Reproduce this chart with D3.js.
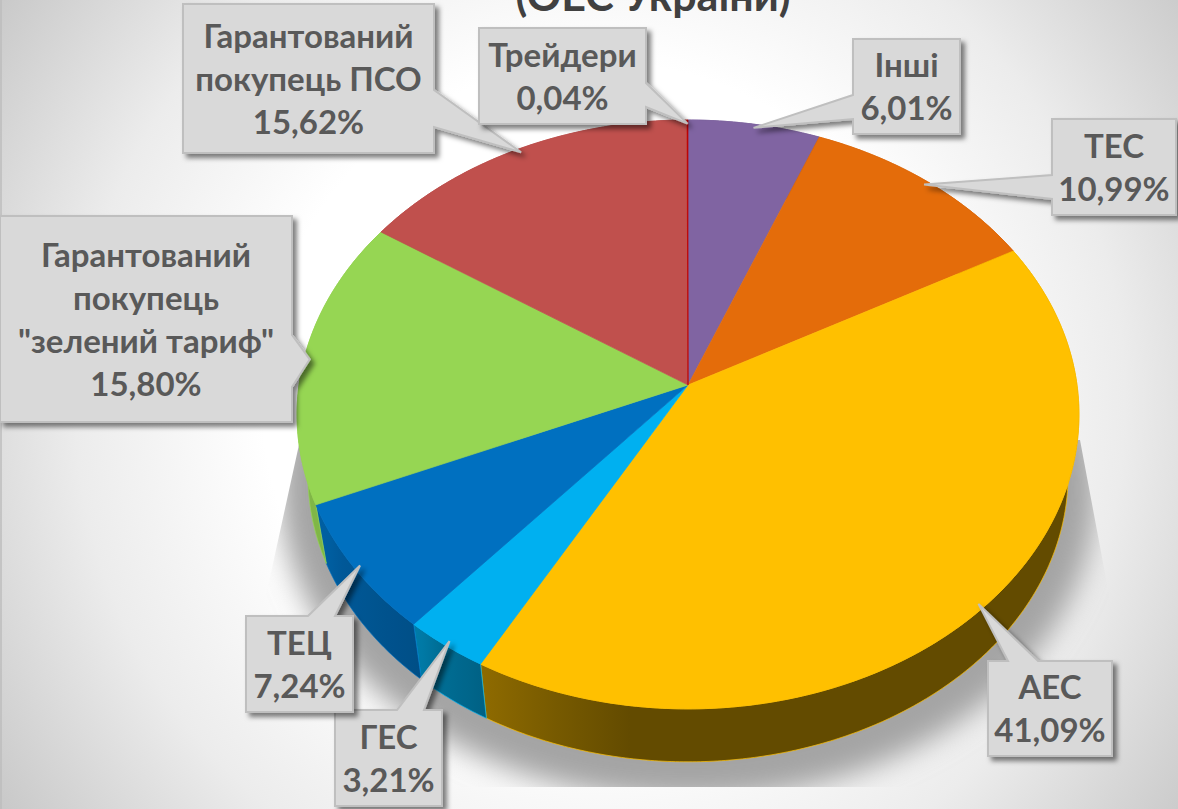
<!DOCTYPE html>
<meta charset="utf-8">
<style>
html, body { margin: 0; padding: 0; background: #fff; }
svg { display: block; }
text { font-family: Lato, "Open Sans", "Noto Sans", sans-serif; font-weight: 700; text-anchor: middle; }
</style>
<svg width="1178" height="809"></svg>
<script src="https://d3js.org/d3.v7.min.js"></script>
<script>

var titleText = "(ОЕС України)";
var names = ["Інші", "ТЕС", "АЕС", "ГЕС", "ТЕЦ", "Гарантований покупець \"зелений тариф\"", "Гарантований покупець ПСО", "Трейдери"];
var shares = [6.01, 10.99, 41.09, 3.21, 7.24, 15.80, 15.62, 0.04];
var colors = ["#8064a2", "#e46c0a", "#ffc000", "#00b0f0", "#0070c0", "#96d653", "#c0504d", "#c00000"];

// label text broken into lines the way the boxes show it
var nameLines = [["Інші"], ["ТЕС"], ["АЕС"], ["ГЕС"], ["ТЕЦ"],
  ["Гарантований", "покупець", "\"зелений тариф\""], ["Гарантований", "покупець ПСО"], ["Трейдери"]];

// callout box: x0,y0,x1,y1, side the pointer leaves from, two base offsets along that side
var boxes = [
  [853, 39, 960, 134, "left", 95, 119],
  [1052, 119, 1176, 215, "left", 175, 199],
  [988, 661, 1112, 756, "top", 1008, 1038],
  [335, 710, 442, 806, "top", 397, 424],
  [246, 616, 353, 712, "top", 308, 335],
  [0, 216, 292, 422, "right", 335, 387],
  [183, 4, 434, 153, "right", 90, 127],
  [479, 28, 646, 124, "right", 83, 107]
];

var svg = d3.select("svg"),
    width = +svg.attr("width"),
    height = +svg.attr("height");

var defs = svg.append("defs");

var bg = defs.append("radialGradient").attr("id", "bg").attr("gradientUnits", "userSpaceOnUse")
    .attr("cx", 600).attr("cy", 400).attr("r", 750);
[[0, "#ffffff"], [0.45, "#ffffff"], [0.7, "#ececec"], [1, "#c4c4c4"]].forEach(function(s) {
  bg.append("stop").attr("offset", s[0]).attr("stop-color", s[1]);
});

defs.append("filter").attr("id", "pieShadow").attr("x", "-20%").attr("y", "-20%").attr("width", "140%").attr("height", "140%")
    .append("feGaussianBlur").attr("stdDeviation", 14);

defs.append("filter").attr("id", "boxShadow").attr("x", "-20%").attr("y", "-20%").attr("width", "140%").attr("height", "140%")
    .append("feDropShadow").attr("dx", 4).attr("dy", 4).attr("stdDeviation", 2.5)
    .attr("flood-color", "#000").attr("flood-opacity", 0.5);

defs.append("clipPath").attr("id", "shadowClip").append("path")
    .attr("d", "M300,440 L265,600 L265,787 L1110,787 L1110,600 L1080,440 Z");

svg.append("rect").attr("width", width).attr("height", height).attr("fill", "url(#bg)");
svg.append("line").attr("x1", 1).attr("x2", 1).attr("y1", 0).attr("y2", height).attr("stroke", "#bdbdbd").attr("stroke-width", 1.5);

svg.append("text").attr("x", 653).attr("y", 11).attr("font-size", 43).attr("fill", "#404040").text(titleText);

// tilted disc: a circle seen in perspective, pivot is where the slices meet
var tilt = 0.1, halfW = 389, halfH = 291.5;
function rim(angle, radius, pivotY, scale) {
  var u = Math.sin(angle) * radius, v = -Math.cos(angle) * radius, w = 1 - tilt * v;
  return [688 + scale * halfW * u / w, pivotY + scale * halfH * v / w];
}
function topRim(a, r) { return rim(a, r === undefined ? 1 : r, 385, 1); }
function lowRim(a) { return rim(a, 1, 447, 0.972); }

var arcs = d3.pie().sort(null).value(function(d) { return d; })(shares);
var line = d3.line();

function samples(a) {
  var n = Math.max(2, Math.ceil((a.endAngle - a.startAngle) / 0.01));
  return d3.range(n + 1).map(function(i) { return a.startAngle + (a.endAngle - a.startAngle) * i / n; });
}

// shadow under the disc
svg.append("g").attr("clip-path", "url(#shadowClip)")
  .append("ellipse").attr("cx", 688).attr("cy", 490).attr("rx", 408).attr("ry", 310)
    .attr("fill", "#a4a4a4").attr("filter", "url(#pieShadow)");

// side wall, darker towards the right
var shade = d3.scaleLinear().domain([325, 345, 420, 440, 487, 620]).range([0.85, 0.78, 0.7, 0.62, 0.55, 0.39]).clamp(true);
function tone(c, m) {
  var q = d3.rgb(c);
  return d3.rgb(q.r * m, q.g * m, q.b * m).formatHex();
}

var walls = svg.append("g");
arcs.forEach(function(a, i) {
  var t = samples(a);
  var up = t.map(function(x) { return topRim(x); }),
      low = t.map(lowRim).reverse();
  var xs = up.concat(low).map(function(p) { return p[0]; });
  var x0 = d3.min(xs), x1 = d3.max(xs);
  var g = defs.append("linearGradient").attr("id", "wall" + i).attr("gradientUnits", "userSpaceOnUse")
      .attr("x1", x0).attr("x2", x1).attr("y1", 0).attr("y2", 0);
  d3.range(9).forEach(function(k) {
    g.append("stop").attr("offset", k / 8).attr("stop-color", tone(colors[i], shade(x0 + (x1 - x0) * k / 8)));
  });
  walls.append("path").attr("d", line(up.concat(low)) + "Z")
      .attr("fill", "url(#wall" + i + ")").attr("stroke", colors[i]).attr("stroke-width", 1).attr("stroke-opacity", 0.7);
});

// top face
svg.append("g").selectAll("path").data(arcs).enter().append("path")
    .attr("d", function(a) { return line([topRim(0, 0)].concat(samples(a).map(function(x) { return topRim(x); }))) + "Z"; })
    .attr("fill", function(a, i) { return colors[i]; })
    .attr("stroke", function(a, i) { return colors[i]; })
    .attr("stroke-width", 0.7);

// callouts, pointer tip sits on the rim at the slice's middle
function calloutPath(b, tip) {
  var x0 = b[0], y0 = b[1], x1 = b[2], y1 = b[3], p = [];
  if (b[4] == "left")  p = [[x0, y0], [x1, y0], [x1, y1], [x0, y1], [x0, b[6]], tip, [x0, b[5]]];
  if (b[4] == "right") p = [[x0, y0], [x1, y0], [x1, b[5]], tip, [x1, b[6]], [x1, y1], [x0, y1]];
  if (b[4] == "top")   p = [[x0, y0], [b[5], y0], tip, [b[6], y0], [x1, y0], [x1, y1], [x0, y1]];
  return line(p) + "Z";
}

var fontSize = 33, lineGap = 43;
var callouts = svg.append("g").selectAll("g").data(arcs).enter().append("g");

callouts.append("path")
    .attr("d", function(a, i) { return calloutPath(boxes[i], topRim((a.startAngle + a.endAngle) / 2, 0.985)); })
    .attr("fill", "#d9d9d9").attr("stroke", "#bfbfbf").attr("stroke-width", 2)
    .attr("filter", "url(#boxShadow)");

callouts.each(function(a, i) {
  var b = boxes[i];
  var rows = nameLines[i].concat([d3.format(".2f")(shares[i]).replace(".", ",") + "%"]);
  var cx = (b[0] + b[2]) / 2, cy = (b[1] + b[3]) / 2;
  d3.select(this).selectAll("text").data(rows).enter().append("text")
      .attr("x", cx)
      .attr("y", function(r, k) { return cy + 12 + (k - (rows.length - 1) / 2) * lineGap; })
      .attr("font-size", fontSize).attr("fill", "#595959")
      .text(function(r) { return r; });
});

</script>
